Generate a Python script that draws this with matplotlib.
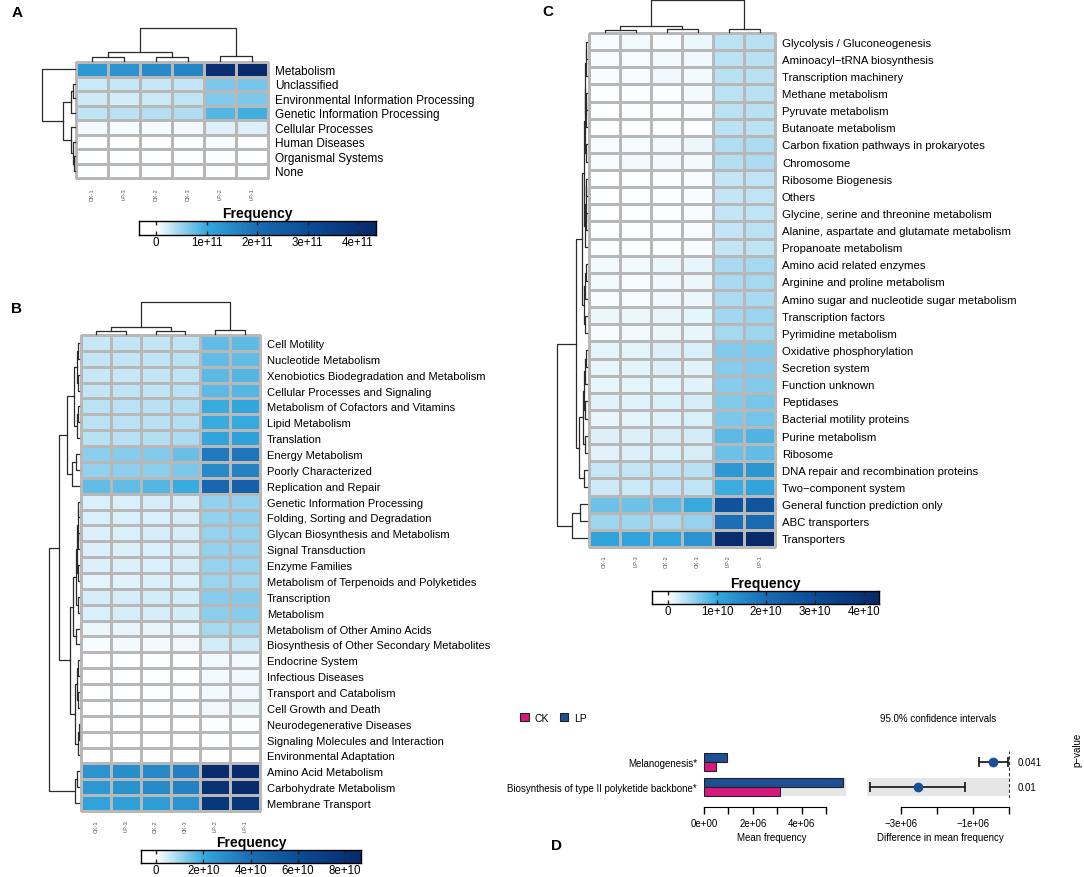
import numpy as np
import matplotlib
matplotlib.use('Agg')
import matplotlib.pyplot as plt
from matplotlib.colors import LinearSegmentedColormap
from matplotlib.patches import Patch
from matplotlib.transforms import blended_transform_factory

plt.rcParams['font.family'] = ['Liberation Sans', 'DejaVu Sans']

W, H = 1084, 878

# =============================================================================
# DATA
# =============================================================================
samples = ['CK-1', 'LP-3', 'CK-2', 'CK-3', 'LP-2', 'LP-1']

# --- panel A: KEGG level 1 (units 1e11) -------------------------------------
rows_a = ['Metabolism', 'Unclassified', 'Environmental Information Processing',
          'Genetic Information Processing', 'Cellular Processes', 'Human Diseases',
          'Organismal Systems', 'None']
freq_a = np.array([
    [1.25, 1.35, 1.50, 1.60, 4.10, 4.30],
    [0.25, 0.27, 0.28, 0.30, 0.65, 0.68],
    [0.24, 0.23, 0.26, 0.31, 0.62, 0.64],
    [0.31, 0.33, 0.36, 0.38, 0.85, 0.93],
    [0.05, 0.04, 0.04, 0.06, 0.17, 0.16],
    [0.00, 0.00, 0.00, 0.00, 0.03, 0.02],
    [0.00, 0.00, 0.00, 0.00, 0.02, 0.01],
    [0.00, 0.00, 0.00, 0.00, 0.00, 0.00],
]) * 1e11
# merges: (node, node, height) - leaves are 0..n-1, new nodes numbered after
tree_a_cols = [(0, 1, 4), (2, 3, 4), (6, 7, 9), (4, 5, 5), (8, 9, 33)]
tree_a_rows = [(1, 2, 2), (8, 3, 4), (6, 7, 1), (5, 10, 2), (4, 11, 4),
               (9, 12, 12), (0, 13, 33)]

# --- panel B: KEGG level 2 (units 1e10) -------------------------------------
rows_b = ['Cell Motility', 'Nucleotide Metabolism',
          'Xenobiotics Biodegradation and Metabolism',
          'Cellular Processes and Signaling', 'Metabolism of Cofactors and Vitamins',
          'Lipid Metabolism', 'Translation', 'Energy Metabolism',
          'Poorly Characterized', 'Replication and Repair',
          'Genetic Information Processing', 'Folding, Sorting and Degradation',
          'Glycan Biosynthesis and Metabolism', 'Signal Transduction',
          'Enzyme Families', 'Metabolism of Terpenoids and Polyketides',
          'Transcription', 'Metabolism', 'Metabolism of Other Amino Acids',
          'Biosynthesis of Other Secondary Metabolites', 'Endocrine System',
          'Infectious Diseases', 'Transport and Catabolism', 'Cell Growth and Death',
          'Neurodegenerative Diseases', 'Signaling Molecules and Interaction',
          'Environmental Adaptation', 'Amino Acid Metabolism',
          'Carbohydrate Metabolism', 'Membrane Transport']
freq_b = np.array([
    [0.60, 0.61, 0.63, 0.67, 1.57, 1.60],
    [0.61, 0.63, 0.64, 0.68, 1.55, 1.58],
    [0.58, 0.60, 0.62, 0.66, 1.62, 1.70],
    [0.63, 0.65, 0.66, 0.70, 1.62, 1.66],
    [0.68, 0.70, 0.72, 0.78, 1.95, 2.10],
    [0.70, 0.70, 0.73, 0.78, 1.95, 2.00],
    [0.72, 0.74, 0.78, 0.85, 2.15, 2.30],
    [1.17, 1.20, 1.24, 1.50, 3.60, 3.70],
    [1.10, 1.12, 1.18, 1.30, 3.00, 3.30],
    [1.55, 1.58, 1.70, 1.95, 4.30, 4.80],
    [0.40, 0.41, 0.43, 0.45, 1.09, 1.10],
    [0.40, 0.40, 0.41, 0.45, 1.10, 1.12],
    [0.37, 0.39, 0.42, 0.44, 1.06, 1.10],
    [0.37, 0.38, 0.40, 0.43, 1.08, 1.10],
    [0.36, 0.38, 0.39, 0.42, 1.06, 1.05],
    [0.31, 0.33, 0.35, 0.39, 1.02, 0.98],
    [0.43, 0.44, 0.47, 0.48, 1.20, 1.22],
    [0.40, 0.42, 0.45, 0.46, 1.18, 1.20],
    [0.22, 0.24, 0.27, 0.30, 0.90, 0.96],
    [0.12, 0.14, 0.16, 0.20, 0.46, 0.52],
    [0.02, 0.03, 0.04, 0.05, 0.14, 0.16],
    [0.02, 0.03, 0.03, 0.05, 0.14, 0.18],
    [0.03, 0.04, 0.04, 0.06, 0.15, 0.17],
    [0.04, 0.05, 0.05, 0.07, 0.20, 0.23],
    [0.00, 0.00, 0.00, 0.02, 0.06, 0.07],
    [0.00, 0.00, 0.00, 0.00, 0.04, 0.04],
    [0.00, 0.00, 0.00, 0.00, 0.00, 0.00],
    [2.70, 2.90, 3.10, 3.40, 8.40, 8.60],
    [2.60, 2.75, 3.00, 3.30, 8.00, 8.50],
    [2.20, 2.30, 2.35, 2.70, 7.60, 7.70],
]) * 1e10
tree_b_cols = [(0, 1, 3), (2, 3, 3), (6, 7, 7), (4, 5, 4), (8, 9, 32)]
tree_b_rows = [(0, 1, 1), (2, 3, 1), (30, 31, 2), (4, 5, 1), (33, 6, 2),
               (32, 34, 5), (7, 8, 3), (36, 9, 7), (35, 37, 12),
               (10, 11, 1), (12, 13, 1), (39, 40, 1.5), (14, 15, 1.5),
               (41, 42, 2), (16, 17, 1.5), (43, 44, 3), (18, 19, 3),
               (45, 46, 6), (20, 21, 1), (22, 23, 1.5), (48, 49, 2.5),
               (24, 25, 0.5), (51, 26, 1), (50, 52, 4), (47, 53, 9),
               (38, 54, 20), (27, 28, 2), (56, 29, 4), (55, 57, 30)]

# --- panel C: KEGG level 3 (units 1e10) -------------------------------------
rows_c = ['Glycolysis / Gluconeogenesis', 'Aminoacyl\u2212tRNA biosynthesis',
          'Transcription machinery', 'Methane metabolism', 'Pyruvate metabolism',
          'Butanoate metabolism', 'Carbon fixation pathways in prokaryotes',
          'Chromosome', 'Ribosome Biogenesis', 'Others',
          'Glycine, serine and threonine metabolism',
          'Alanine, aspartate and glutamate metabolism', 'Propanoate metabolism',
          'Amino acid related enzymes', 'Arginine and proline metabolism',
          'Amino sugar and nucleotide sugar metabolism', 'Transcription factors',
          'Pyrimidine metabolism', 'Oxidative phosphorylation', 'Secretion system',
          'Function unknown', 'Peptidases', 'Bacterial motility proteins',
          'Purine metabolism', 'Ribosome', 'DNA repair and recombination proteins',
          'Two\u2212component system', 'General function prediction only',
          'ABC transporters', 'Transporters']
freq_c = np.array([
    [0.05, 0.06, 0.05, 0.09, 0.34, 0.35],
    [0.04, 0.04, 0.06, 0.08, 0.33, 0.36],
    [0.04, 0.04, 0.08, 0.07, 0.35, 0.36],
    [0.00, 0.03, 0.03, 0.06, 0.34, 0.35],
    [0.00, 0.03, 0.02, 0.05, 0.34, 0.35],
    [0.00, 0.03, 0.01, 0.03, 0.33, 0.34],
    [0.04, 0.04, 0.07, 0.09, 0.38, 0.40],
    [0.05, 0.06, 0.06, 0.07, 0.37, 0.40],
    [0.00, 0.00, 0.03, 0.05, 0.30, 0.32],
    [0.00, 0.00, 0.03, 0.05, 0.29, 0.31],
    [0.00, 0.00, 0.03, 0.05, 0.30, 0.32],
    [0.00, 0.00, 0.03, 0.05, 0.30, 0.33],
    [0.00, 0.00, 0.00, 0.04, 0.29, 0.31],
    [0.07, 0.06, 0.10, 0.12, 0.43, 0.45],
    [0.07, 0.05, 0.08, 0.10, 0.43, 0.45],
    [0.05, 0.04, 0.08, 0.09, 0.40, 0.42],
    [0.09, 0.10, 0.12, 0.13, 0.46, 0.49],
    [0.05, 0.07, 0.10, 0.11, 0.45, 0.47],
    [0.14, 0.14, 0.17, 0.19, 0.60, 0.62],
    [0.12, 0.13, 0.17, 0.16, 0.58, 0.60],
    [0.12, 0.13, 0.14, 0.16, 0.59, 0.61],
    [0.15, 0.16, 0.18, 0.20, 0.63, 0.66],
    [0.12, 0.14, 0.16, 0.18, 0.65, 0.68],
    [0.17, 0.17, 0.21, 0.22, 0.80, 0.85],
    [0.15, 0.17, 0.19, 0.21, 0.72, 0.76],
    [0.28, 0.29, 0.32, 0.35, 1.25, 1.30],
    [0.25, 0.26, 0.29, 0.32, 0.95, 1.05],
    [0.72, 0.71, 0.80, 0.98, 2.80, 2.75],
    [0.47, 0.48, 0.42, 0.52, 1.95, 2.05],
    [1.05, 1.10, 1.08, 1.35, 4.10, 4.30],
]) * 1e10
tree_c_cols = [(0, 1, 2), (2, 3, 3), (6, 7, 6), (4, 5, 3), (8, 9, 32)]
tree_c_rows = [(0, 1, 0.5), (30, 2, 1), (3, 4, 0.5), (32, 5, 1), (31, 33, 1.5),
               (6, 7, 1), (34, 35, 2), (8, 9, 0.5), (10, 11, 0.5), (37, 38, 1),
               (39, 12, 1.5), (36, 40, 3), (13, 14, 1), (42, 15, 1.5),
               (16, 17, 1.5), (43, 44, 2.5), (41, 45, 5), (18, 19, 1),
               (47, 20, 1.5), (21, 22, 1.5), (48, 49, 2.5), (23, 24, 2),
               (50, 51, 4), (25, 26, 2.5), (52, 53, 8), (46, 54, 11),
               (27, 28, 7), (56, 29, 15), (55, 57, 30)]

# --- panel D: STAMP style comparison -----------------------------------------
pathways_d = ['Melanogenesis*', 'Biosynthesis of type II polyketide backbone*']
ck_mean = [0.49e6, 3.10e6]
lp_mean = [0.94e6, 5.67e6]
diff_mean = np.array([-0.46e6, -2.54e6])
ci_low = np.array([-0.85e6, -3.87e6])
ci_high = np.array([-0.04e6, -1.23e6])
p_values = ['0.041', '0.01']

CK_COL = '#d61a7d'
LP_COL = '#1c4f93'

cmap = LinearSegmentedColormap.from_list('freq', [
    (0.0, '#ffffff'), (0.07, '#ffffff'), (0.285, '#33a8de'),
    (0.5, '#1b6cb3'), (0.72, '#0b4c96'), (1.0, '#08296a')])

fig = plt.figure(figsize=(W / 100, H / 100), dpi=100)


def px_axes(x0, y0, x1, y1):
    # axes from pixel box (y measured from the top)
    return fig.add_axes([x0 / W, 1 - y1 / H, (x1 - x0) / W, (y1 - y0) / H])


def heatmap(box, values, labels, vmin, vmax, fs, xpad):
    ax = px_axes(*box)
    nrow, ncol = values.shape
    mesh = ax.pcolormesh(values, cmap=cmap, vmin=vmin, vmax=vmax,
                         edgecolors='#b8b8b8', linewidth=0.75)
    mesh.set_clip_on(False)
    ax.set_xlim(0, ncol)
    ax.set_ylim(nrow, 0)
    ax.yaxis.tick_right()
    ax.set_yticks(np.arange(nrow) + 0.5)
    ax.set_yticklabels(labels, fontsize=fs)
    ax.set_xticks(np.arange(ncol) + 0.5)
    ax.set_xticklabels(samples, rotation=90, fontsize=4, color='#555555')
    ax.tick_params(axis='y', length=0, pad=5)
    ax.tick_params(axis='x', length=0, pad=xpad)
    for s in ax.spines.values():
        s.set_visible(False)
    return ax


def tree(box, merges, n, side):
    ax = px_axes(*box)
    pos = list(np.arange(n) + 0.5)
    hgt = [0.0] * n
    for a, b, h in merges:
        p = [pos[a], pos[a], pos[b], pos[b]]
        q = [hgt[a], h, h, hgt[b]]
        if side == 'top':
            ax.plot(p, q, color='#2b2b2b', lw=0.9, clip_on=False)
        else:
            ax.plot(q, p, color='#2b2b2b', lw=0.9, clip_on=False)
        pos.append((pos[a] + pos[b]) / 2)
        hgt.append(h)
    top = max(hgt)
    if side == 'top':
        ax.set_xlim(0, n)
        ax.set_ylim(0, top)
    else:
        ax.set_xlim(top, 0)
        ax.set_ylim(n, 0)
    ax.axis('off')


def colorbar(box, vmin, vmax, ticks, tick_labels):
    cax = px_axes(*box)
    grad = np.linspace(vmin, vmax, 300)[None, :]
    cax.imshow(grad, aspect='auto', cmap=cmap, vmin=vmin, vmax=vmax,
               extent=[vmin, vmax, 0, 1])
    cax.set_xlim(vmin, vmax)
    cax.set_yticks([])
    cax.set_xticks(ticks)
    cax.set_xticklabels(tick_labels, fontsize=8.3)
    cax.tick_params(axis='x', direction='in', length=3, width=1, top=True,
                    pad=1, color='#222222')
    for s in cax.spines.values():
        s.set_linewidth(1.0)
    cax.set_title('Frequency', fontsize=10, fontweight='bold', pad=3)


def bottom_axis(ax, lo, hi, ticks, labels):
    # R style axis: line only over the tick range, set a few px below the plot
    for s in ['left', 'top', 'right']:
        ax.spines[s].set_visible(False)
    ax.spines['bottom'].set_position(('outward', 6.5))
    ax.spines['bottom'].set_bounds(lo, hi)
    ax.set_xticks(ticks)
    ax.set_xticklabels(labels, fontsize=7)
    ax.tick_params(axis='x', length=5, width=1, pad=3)


# --- panel A ----------------------------------------------------------------
heatmap((76, 63, 268, 179), freq_a, rows_a, -0.337e11, 4.356e11, 8.5, 6.5)
tree((76, 29, 268, 62), tree_a_cols, 6, 'top')
tree((42, 63, 75, 179), tree_a_rows, len(rows_a), 'left')
colorbar((139, 222, 376, 236), -0.337e11, 4.356e11,
         np.arange(0, 5) * 1e11, ['0', '1e+11', '2e+11', '3e+11', '4e+11'])

# --- panel B ----------------------------------------------------------------
heatmap((81, 336, 260, 812), freq_b, rows_b, -0.634e10, 8.67e10, 8, 6)
tree((81, 303, 260, 335), tree_b_cols, 6, 'top')
tree((49, 336, 79, 812), tree_b_rows, len(rows_b), 'left')
colorbar((141, 851, 361, 864), -0.634e10, 8.67e10,
         np.arange(0, 10, 2) * 1e10, ['0', '2e+10', '4e+10', '6e+10', '8e+10'])

# --- panel C ----------------------------------------------------------------
heatmap((589, 34, 775, 548), freq_c, rows_c, -0.327e10, 4.306e10, 8.2, 5.5)
tree((589, 1, 775, 33), tree_c_cols, 6, 'top')
tree((557, 34, 587, 548), tree_c_rows, len(rows_c), 'left')
colorbar((652, 592, 879, 605), -0.327e10, 4.306e10,
         np.arange(0, 5) * 1e10, ['0', '1e+10', '2e+10', '3e+10', '4e+10'])

# --- panel D: mean frequency bars -------------------------------------------
rows_d = np.arange(len(pathways_d))
ax_bar = px_axes(704, 752, 846, 799)
for r in rows_d:
    if r % 2 == 1:
        ax_bar.axhspan(r - 0.37, r + 0.37, color='#e6e6e6', lw=0, zorder=0)
ax_bar.barh(rows_d - 0.175, lp_mean, height=0.35, color=LP_COL,
            edgecolor='#222222', lw=0.8, zorder=2)
ax_bar.barh(rows_d + 0.175, ck_mean, height=0.35, color=CK_COL,
            edgecolor='#222222', lw=0.8, zorder=2)
ax_bar.set_xlim(0, 5.8e6)
ax_bar.set_ylim(1.44, -0.44)
bottom_axis(ax_bar, 0, 5e6, np.arange(0, 6) * 1e6,
            ['0e+00', '', '2e+06', '', '4e+06', ''])
ax_bar.set_yticks(rows_d)
ax_bar.set_yticklabels(pathways_d, fontsize=7)
ax_bar.tick_params(axis='y', length=0, pad=5)

# --- panel D: difference with confidence intervals --------------------------
ax_ci = px_axes(867, 752, 1010, 799)
xl, xr = -3.958e6, 0.014e6
ax_ci.set_xlim(xl, xr)
ax_ci.set_ylim(1.44, -0.44)
for r in rows_d:
    if r % 2 == 1:
        ax_ci.axhspan(r - 0.37, r + 0.37, xmin=0, xmax=(0 - xl) / (xr - xl),
                      color='#e6e6e6', lw=0, zorder=0)
ax_ci.axvline(0, ls=(0, (3, 2)), color='#333333', lw=0.8, zorder=1)
ax_ci.errorbar(diff_mean, rows_d, xerr=[diff_mean - ci_low, ci_high - diff_mean],
               fmt='o', color=LP_COL, ecolor='#111111', elinewidth=1.2,
               capsize=3.5, capthick=1.2, markersize=6, zorder=3)
trans = blended_transform_factory(ax_ci.transAxes, ax_ci.transData)
for r, p in zip(rows_d, p_values):
    ax_ci.text(1.056, r, p, transform=trans, va='center', ha='left', fontsize=7)
bottom_axis(ax_ci, -3e6, 0, np.arange(-3, 1) * 1e6,
            ['\u22123e+06', '', '\u22121e+06', ''])
ax_ci.set_yticks([])

fig.text(938 / W, 1 - 719 / H, '95.0% confidence intervals',
         ha='center', va='center', fontsize=7)
fig.text(772 / W, 1 - 838 / H, 'Mean frequency', ha='center', va='center', fontsize=7)
fig.text(940 / W, 1 - 838 / H, 'Difference in mean frequency',
         ha='center', va='center', fontsize=7)
fig.text(1077 / W, 1 - 750 / H, 'p\u2212value', rotation=90,
         ha='center', va='center', fontsize=7)

handles = [Patch(facecolor=CK_COL, edgecolor='#222222', lw=0.8),
           Patch(facecolor=LP_COL, edgecolor='#222222', lw=0.8)]
fig.legend(handles, ['CK', 'LP'], ncol=2, loc='center left',
           bbox_to_anchor=(513 / W, 1 - 719 / H), frameon=False, fontsize=7.5,
           handlelength=0.8, handleheight=0.8, handletextpad=0.6,
           columnspacing=1.0, borderpad=0.2)

# --- panel letters ----------------------------------------------------------
for letter, x, y in [('A', 17, 13), ('B', 17, 309), ('C', 548, 12), ('D', 556, 846)]:
    fig.text(x / W, 1 - y / H, letter, ha='center', va='center',
             fontsize=11, fontweight='bold')

fig.savefig('out.png', dpi=100)
